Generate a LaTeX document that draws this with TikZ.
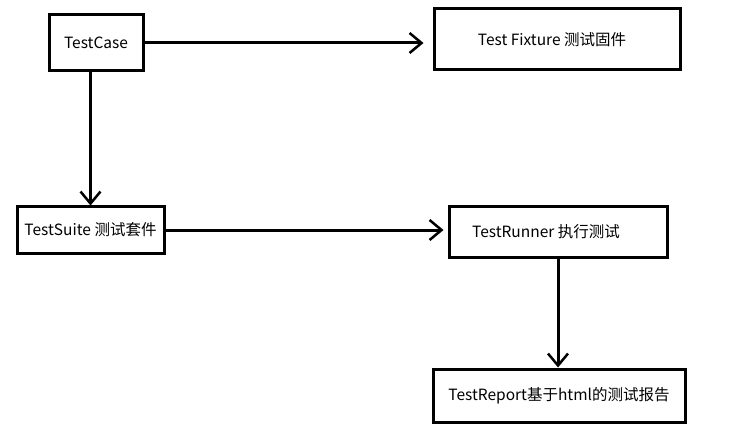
\documentclass[tikz,border=0pt]{standalone}
\usepackage{fontspec}
\newfontfamily\cjk{Noto Sans CJK SC}
\usetikzlibrary{arrows.meta, positioning, calc}

\begin{document}
\begin{tikzpicture}[x=1pt, y=-1pt,
        box/.style={draw, line width=3pt, inner sep=0pt, align=center,
                    font=\cjk\fontsize{15.5}{18}\selectfont},
        arr/.style={-{Straight Barb[length=12pt, width=20pt, line width=2.5pt]}, line width=3pt}
    ]
        \useasboundingbox (0,0) rectangle (735,438);

        \node[box, minimum width=94pt, minimum height=56pt] (testcase) at (96, 43) {TestCase};
        \node[box, minimum width=246pt, minimum height=61pt] (fixture) at (557, 39.5) {Test Fixture 测试固件\hspace*{10pt}};
        \node[box, minimum width=147pt, minimum height=46pt] (suite) at (90.5, 230) {TestSuite 测试套件};
        \node[box, minimum width=218pt, minimum height=50pt] (runner) at (558, 232) {TestRunner 执行测试\hspace*{24pt}};
        \node[box, minimum width=252pt, minimum height=53pt] (report) at (559, 395.5) {TestReport基于html的测试报告};

        \draw[arr, shorten >=9pt] (testcase.east) -- (testcase.east -| fixture.west);
        \draw[arr] (testcase.south -| suite.north) -- (suite.north);
        \draw[arr, shorten >=4pt] (suite.east) -- (suite.east -| runner.west);
        \draw[arr] (runner.south) -- (runner.south |- report.north);
    \end{tikzpicture}
\end{document}
